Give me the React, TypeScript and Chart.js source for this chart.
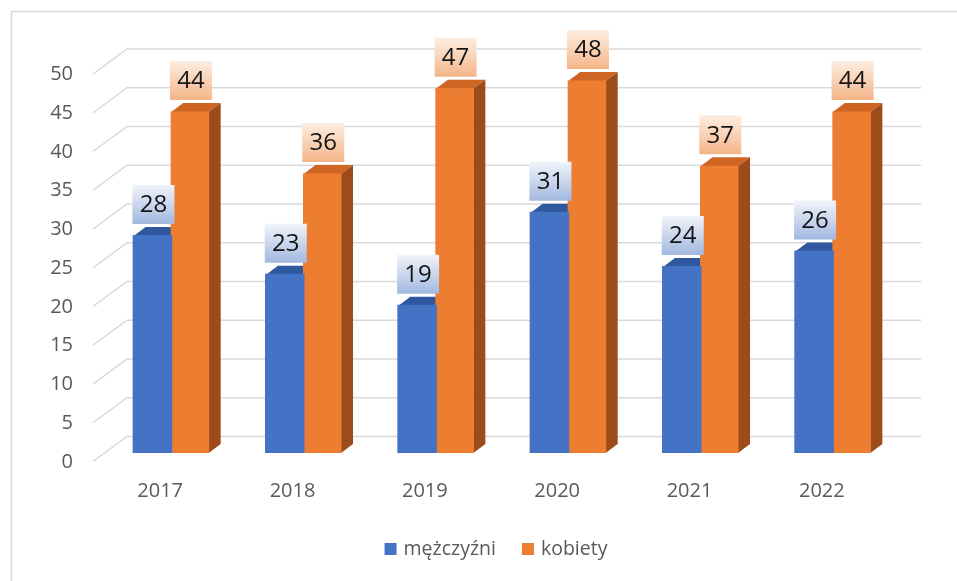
import { useEffect, useRef } from "react";
import { Chart, registerables } from "chart.js";

Chart.register(...registerables);

const years = ["2017", "2018", "2019", "2020", "2021", "2022"];
const men = [28, 23, 19, 31, 24, 26];
const women = [44, 36, 47, 48, 37, 44];
const yTicks = [0, 5, 10, 15, 20, 25, 30, 35, 40, 45, 50];
const seriesNames = ["mężczyźni", "kobiety"];

const FONT = "'Open Sans', 'Noto Sans', sans-serif";
const AXIS_COLOR = "#595959";
const GRID_COLOR = "#d9d9d9";

// oblique projection offsets relative to the plane of the bar fronts
const DEPTH = { dx: 12, dy: 9 };
const WALL = { dx: 22, dy: 16.5 };
const FRONT = { dx: -12, dy: 8.5 };

const faceColors = [
  { top: "#30589f", side: "#2c4f8f", boxTop: "#f1f4fa", boxBottom: "#a2b8e0" },
  { top: "#cf6523", side: "#9e4b1b", boxTop: "#fdeee3", boxBottom: "#f4b587" },
];

function poly(ctx: CanvasRenderingContext2D, pts: number[][], fill: string) {
  ctx.beginPath();
  ctx.moveTo(pts[0][0], pts[0][1]);
  for (let i = 1; i < pts.length; i++) ctx.lineTo(pts[i][0], pts[i][1]);
  ctx.closePath();
  ctx.fillStyle = fill;
  ctx.fill();
}

const frame3d = {
  id: "frame3d",
  beforeDraw(chart: any) {
    const ctx = chart.ctx as CanvasRenderingContext2D;
    ctx.save();
    ctx.strokeStyle = GRID_COLOR;
    ctx.lineWidth = 1.5;
    ctx.strokeRect(11.5, 11.5, chart.width, chart.height);
    ctx.restore();
  },
  beforeDatasetsDraw(chart: any) {
    const ctx = chart.ctx as CanvasRenderingContext2D;
    const { left, right } = chart.chartArea;
    const xs = chart.scales.x;
    const ys = chart.scales.y;
    ctx.save();

    // back wall gridlines with their slanted side edges
    ctx.strokeStyle = GRID_COLOR;
    ctx.lineWidth = 1.5;
    yTicks.forEach((v) => {
      const py = ys.getPixelForValue(v);
      ctx.beginPath();
      ctx.moveTo(left + FRONT.dx, py + FRONT.dy);
      ctx.lineTo(left + WALL.dx, py - WALL.dy);
      ctx.lineTo(right + WALL.dx, py - WALL.dy);
      ctx.stroke();
    });

    // value axis labels
    ctx.fillStyle = AXIS_COLOR;
    ctx.font = `20px ${FONT}`;
    ctx.textAlign = "right";
    ctx.textBaseline = "middle";
    yTicks.forEach((v) => {
      const py = ys.getPixelForValue(v);
      ctx.fillText(String(v), 73, py + FRONT.dy + 0.5);
    });

    // category labels
    ctx.textAlign = "center";
    const base = ys.getPixelForValue(0);
    years.forEach((yr, i) => {
      ctx.fillText(yr, xs.getPixelForValue(i) + FRONT.dx + 1, base + 38);
    });

    // top and side faces of every column
    years.forEach((_, i) => {
      chart.data.datasets.forEach((_ds: any, di: number) => {
        const bar = chart.getDatasetMeta(di).data[i];
        const p = bar.getProps(["x", "y", "base", "width"], true);
        const x1 = p.x - p.width / 2;
        const x2 = p.x + p.width / 2;
        const c = faceColors[di];
        poly(ctx, [
          [x1, p.y], [x2, p.y], [x2 + DEPTH.dx, p.y - DEPTH.dy], [x1 + DEPTH.dx, p.y - DEPTH.dy],
        ], c.top);
        poly(ctx, [
          [x2, p.y], [x2 + DEPTH.dx, p.y - DEPTH.dy], [x2 + DEPTH.dx, p.base - DEPTH.dy], [x2, p.base],
        ], c.side);
      });
    });
    ctx.restore();
  },
  afterDatasetsDraw(chart: any) {
    const ctx = chart.ctx as CanvasRenderingContext2D;
    ctx.save();
    ctx.font = `24px ${FONT}`;
    ctx.textAlign = "center";
    ctx.textBaseline = "middle";
    chart.data.datasets.forEach((ds: any, di: number) => {
      const c = faceColors[di];
      chart.getDatasetMeta(di).data.forEach((bar: any, i: number) => {
        const p = bar.getProps(["x", "y"], true);
        const w = 42;
        const h = 39;
        const bottom = p.y - DEPTH.dy - 3;
        const top = bottom - h;
        const bx = p.x - w / 2 + 1;
        const g = ctx.createLinearGradient(0, top, 0, bottom);
        g.addColorStop(0, c.boxTop);
        g.addColorStop(1, c.boxBottom);
        ctx.fillStyle = g;
        ctx.fillRect(bx, top, w, h);
        ctx.fillStyle = "#141414";
        ctx.fillText(String(ds.data[i]), bx + w / 2, top + h / 2 + 1);
      });
    });
    ctx.restore();
  },
  afterDraw(chart: any) {
    const ctx = chart.ctx as CanvasRenderingContext2D;
    ctx.save();
    ctx.font = `19.5px ${FONT}`;
    ctx.textBaseline = "middle";
    ctx.textAlign = "left";
    const box = 12;
    const gap = 7;
    const spacing = 26;
    const widths = seriesNames.map((n) => ctx.measureText(n).width);
    const total = widths.reduce((a, w) => a + box + gap + w, 0) + spacing * (seriesNames.length - 1);
    let x = 496 - total / 2;
    const cy = 549;
    chart.data.datasets.forEach((ds: any, di: number) => {
      ctx.fillStyle = ds.backgroundColor;
      ctx.fillRect(x, cy - box / 2, box, box);
      ctx.fillStyle = AXIS_COLOR;
      ctx.fillText(ds.label, x + box + gap, cy);
      x += box + gap + widths[di] + spacing;
    });
    ctx.restore();
  },
};

export default function App() {
  const canvasRef = useRef<HTMLCanvasElement | null>(null);

  useEffect(() => {
    if (!canvasRef.current) return;
    const chart = new Chart(canvasRef.current, {
      type: "bar",
      data: {
        labels: years,
        datasets: [
          { label: seriesNames[0], data: men, backgroundColor: "#4472c4", borderWidth: 0, inflateAmount: 1 },
          { label: seriesNames[1], data: women, backgroundColor: "#ed7d31", borderWidth: 0, inflateAmount: 0.5 },
        ],
      },
      options: {
        responsive: false,
        animation: false,
        events: [],
        layout: { padding: { left: 105, right: 58, top: 65.5, bottom: 128 } },
        datasets: { bar: { categoryPercentage: 0.567, barPercentage: 1 } },
        scales: {
          x: { display: false },
          y: { display: false, min: 0, max: 50 },
        },
        plugins: {
          legend: { display: false },
          tooltip: { enabled: false },
        },
      },
      plugins: [frame3d],
    });
    return () => chart.destroy();
  }, []);

  return (
    <div style={{ position: "absolute", left: 0, top: 0, width: 957, height: 581, background: "#fff" }}>
      <canvas ref={canvasRef} width={957} height={581} style={{ display: "block" }} />
    </div>
  );
}
